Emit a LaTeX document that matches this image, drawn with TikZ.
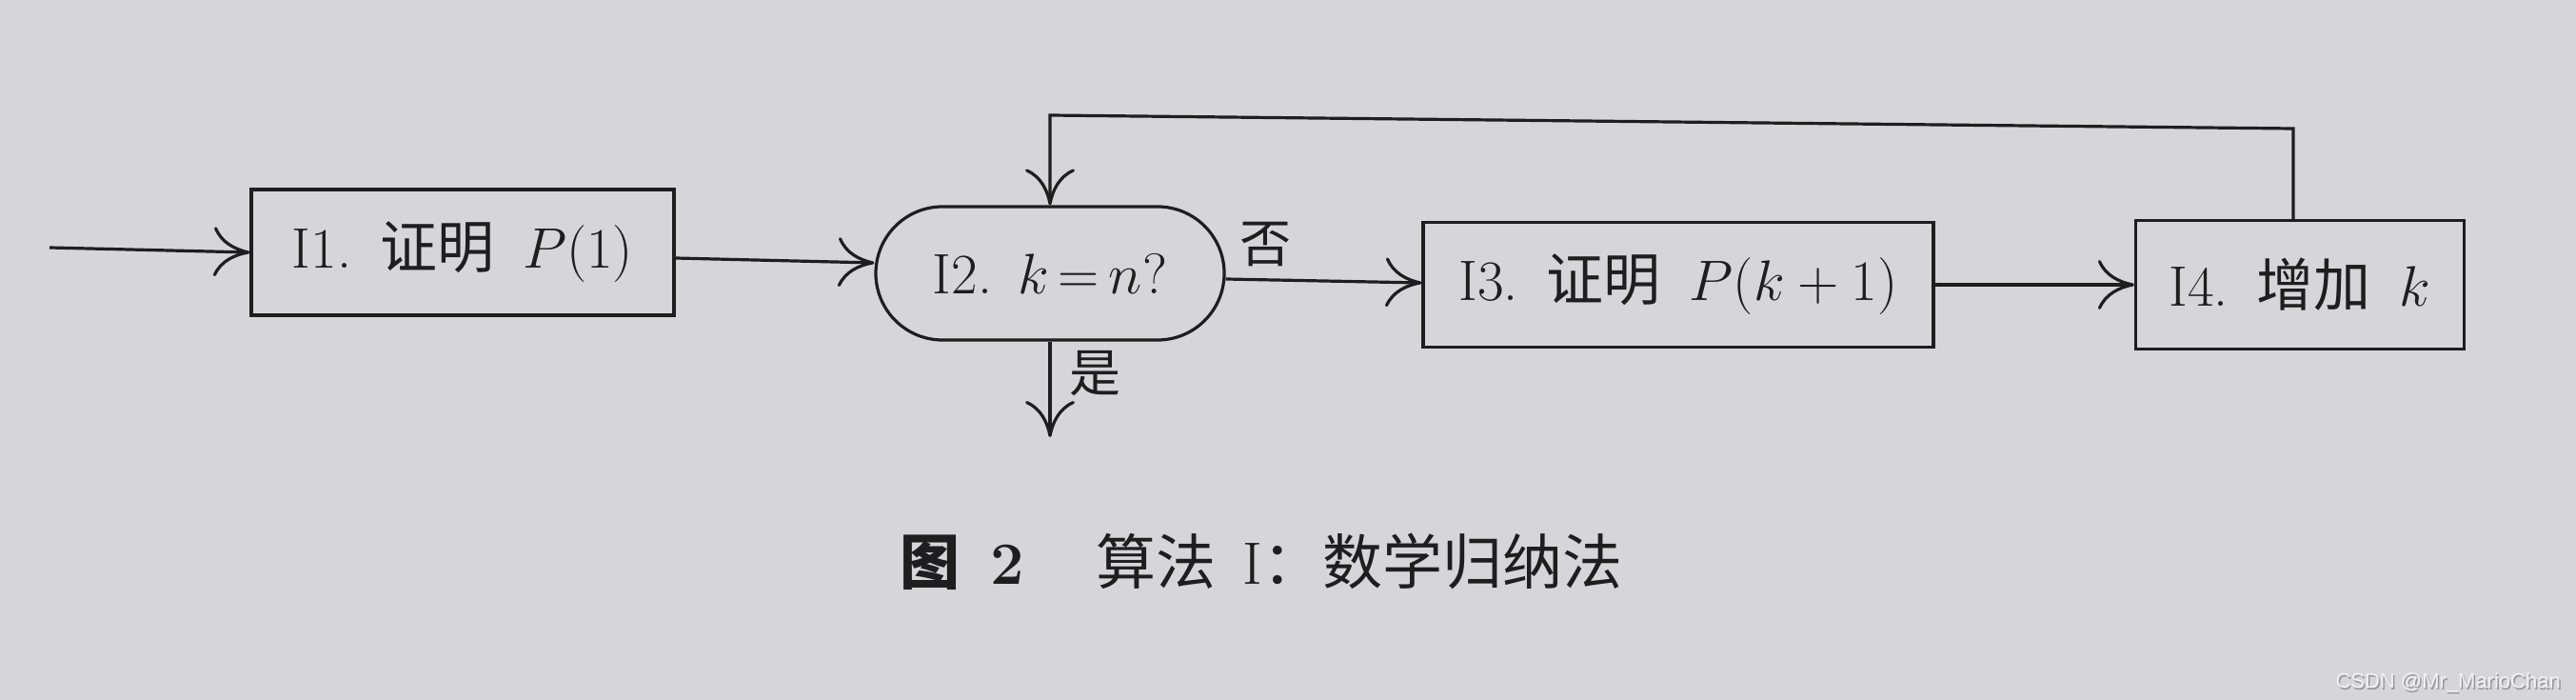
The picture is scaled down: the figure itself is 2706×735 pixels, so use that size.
\RequirePackage{fix-cm}
\documentclass[tikz,border=0pt]{standalone}
\usepackage{fontspec}
\newfontfamily\cjk{Noto Sans CJK SC}
\newfontfamily\wmfont{Liberation Sans}
\usetikzlibrary{arrows.meta,shapes.misc}
\definecolor{bgcol}{RGB}{213,213,218}
\definecolor{ink}{RGB}{30,30,32}
\definecolor{wmcol}{RGB}{242,242,245}
\definecolor{wmshadow}{RGB}{150,150,156}
\begin{document}
\begin{tikzpicture}[x=1pt,y=-1pt,
  box/.style={draw=ink, line width=3.2pt, text=ink, minimum width=#1,
    minimum height=132pt, inner sep=0pt, font=\fontsize{60}{66}\selectfont},
  term/.style={box=#1, rounded rectangle, minimum height=140pt},
  lbl/.style={text=ink, inner sep=0pt, font=\fontsize{54}{60}\selectfont\cjk},
  flow/.style={draw=ink, line width=3.2pt,
    -{Computer Modern Rightarrow[length=38pt,width=52pt]}}]
\useasboundingbox (0,0) rectangle (2706,735);
\fill[bgcol] (0,0) rectangle (2706,735);

\node[box=444pt] (i1) at (486,265) {I1.\hspace{0.5em}{\cjk 证明}\hspace{0.5em}$P(1)$};
\node[term=366pt] (i2) at (1103,287) {I2.\hspace{0.45em}$k\,{=}\,n$?};
\node[box=536pt, minimum height=131pt] (i3) at (1763,299) {I3.\hspace{0.5em}{\cjk 证明}\hspace{0.5em}$P(k+1)$};
\node[box=345pt, minimum height=135pt] (i4) at (2416,299) {I4.\hspace{0.5em}{\cjk 增加}\hspace{0.5em}$k$};

\coordinate (start) at (52,260);
\coordinate (lr) at (2409,135);
\coordinate (ll) at (1103,121);
\coordinate (yesend) at (1103,459);

\draw[flow] (start) -- (i1.west);
\draw[flow] ([yshift=-6pt]i1.east) -- ([yshift=11pt]i2.west);
\draw[flow] ([yshift=-6pt]i2.east) -- ([yshift=2pt]i3.west);
\draw[flow] (i3.east) -- (i4.west);
\draw[flow] (i4.north -| lr) -- (lr) -- (ll) -- (i2.north);
\draw[flow] (i2.south) -- (yesend);

\node[lbl] (no) at (1329,257) {否};
\node[lbl] (yes) at (1150,392) {是};

\node[text=ink, inner sep=0pt, font=\fontsize{63}{70}\selectfont] (cap) at (1325,590)
  {{\cjk\bfseries 图}\hspace{0.5em}\textbf{2}\hspace{1.2em}{\cjk 算法}\hspace{0.45em}I{\cjk ：数学归纳法}};

\node[text=wmshadow, inner sep=0pt, anchor=east, font=\fontsize{22}{24}\wmfont] (wms) at (2691.5,718.5) {CSDN @Mr\_MarioChan};
\node[text=wmcol, inner sep=0pt, anchor=east, font=\fontsize{22}{24}\wmfont] (wm) at (2690,717) {CSDN @Mr\_MarioChan};
\end{tikzpicture}
\end{document}
